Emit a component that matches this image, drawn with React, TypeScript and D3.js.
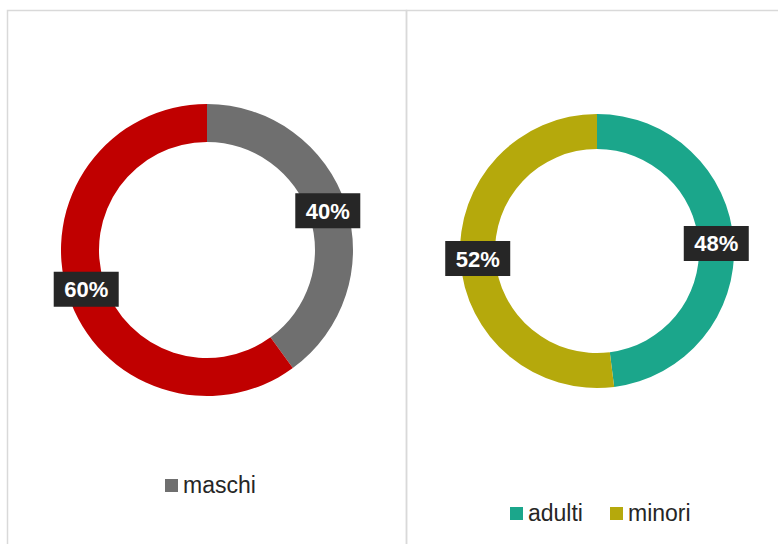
import React from "react";
import * as d3 from "d3";

const genderLabels = ["maschi", "femmine"];
const genderValues = [40, 60];
const genderColors = ["#6f6f6f", "#c00000"];
const genderLegend = ["maschi"];

const ageLabels = ["adulti", "minori"];
const ageValues = [48, 52];
const ageColors = ["#1ba68b", "#b5a90c"];
const ageLegend = ["adulti", "minori"];

const W = 778;
const H = 544;

type DonutProps = {
  cx: number;
  cy: number;
  outer: number;
  inner: number;
  labels: string[];
  values: number[];
  colors: string[];
};

function Donut({ cx, cy, outer, inner, labels, values, colors }: DonutProps) {
  const pie = d3.pie<number>().sort(null).value((d) => d);
  const arcs = pie(values);
  const arc = d3.arc<d3.PieArcDatum<number>>().innerRadius(inner).outerRadius(outer);
  const labelArc = d3
    .arc<d3.PieArcDatum<number>>()
    .innerRadius((inner + outer) / 2)
    .outerRadius((inner + outer) / 2);
  const total = d3.sum(values);
  return (
    <g transform={`translate(${cx},${cy})`}>
      {arcs.map((a, i) => (
        <path key={labels[i]} d={arc(a) || ""} fill={colors[i]} />
      ))}
      {arcs.map((a, i) => {
        const [x, y] = labelArc.centroid(a);
        const txt = `${Math.round((values[i] / total) * 100)}%`;
        return (
          <g key={"l" + labels[i]} transform={`translate(${x},${y})`}>
            <rect x={-32.5} y={-17.5} width={65} height={35} fill="#262626" />
            <text
              x={0}
              y={8}
              textAnchor="middle"
              fill="#ffffff"
              fontSize={22}
              fontWeight="bold"
              fontFamily="Liberation Sans, Arial, sans-serif"
            >
              {txt}
            </text>
          </g>
        );
      })}
    </g>
  );
}

type LegendProps = {
  items: string[];
  colors: string[];
  x: number;
  y: number;
  gap: number;
};

function Legend({ items, colors, x, y, gap }: LegendProps) {
  let cur = x;
  const out: React.ReactNode[] = [];
  items.forEach((it, i) => {
    out.push(
      <rect key={"s" + it} x={cur} y={y - 14} width={13} height={13} fill={colors[i]} />
    );
    out.push(
      <text
        key={"t" + it}
        x={cur + 18}
        y={y}
        fontSize={23}
        fill="#262626"
        fontFamily="Liberation Sans, Arial, sans-serif"
      >
        {it}
      </text>
    );
    cur += gap;
  });
  return <g>{out}</g>;
}

export default function App() {
  return (
    <svg
      width={W}
      height={H}
      style={{ position: "absolute", left: 0, top: 0, background: "#ffffff" }}
    >
      <rect x={0} y={0} width={W} height={H} fill="#ffffff" />
      <rect x={7.5} y={10.5} width={399} height={H} fill="none" stroke="#d9d9d9" strokeWidth={1.5} />
      <rect x={406.5} y={10.5} width={W} height={H} fill="none" stroke="#d9d9d9" strokeWidth={1.5} />
      <Donut
        cx={207}
        cy={250}
        outer={146}
        inner={108}
        labels={genderLabels}
        values={genderValues}
        colors={genderColors}
      />
      <Donut
        cx={597}
        cy={251}
        outer={137}
        inner={102}
        labels={ageLabels}
        values={ageValues}
        colors={ageColors}
      />
      <Legend items={genderLegend} colors={genderColors} x={165} y={493} gap={0} />
      <Legend items={ageLegend} colors={ageColors} x={510} y={521} gap={100} />
    </svg>
  );
}
